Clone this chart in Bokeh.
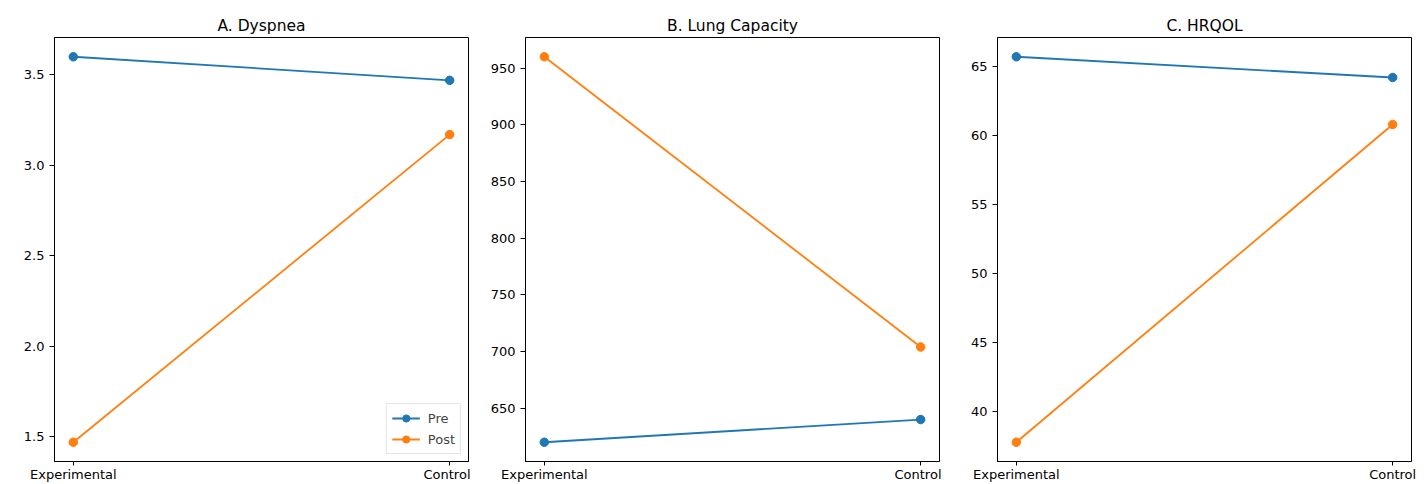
from bokeh.plotting import figure
from bokeh.layouts import row
from bokeh.models import FixedTicker, Range1d, Legend, LegendItem, NumeralTickFormatter
from bokeh.embed import file_html
from bokeh.resources import INLINE

groups = ["Experimental", "Control"]
series_names = ["Pre", "Post"]

dyspnea_pre = [3.60, 3.47]
dyspnea_post = [1.47, 3.17]
lung_pre = [620, 640]
lung_post = [960, 704]
hrqol_pre = [65.7, 64.2]
hrqol_post = [37.8, 60.8]

titles = ["A. Dyspnea", "B. Lung Capacity", "C. HRQOL"]
ticks_a = [1.5, 2.0, 2.5, 3.0, 3.5]
ticks_b = [650, 700, 750, 800, 850, 900, 950]
ticks_c = [40, 45, 50, 55, 60, 65]

BLUE = "#1f77b4"
ORANGE = "#ff7f0e"
FONT = "DejaVu Sans"

xs = list(range(len(groups)))


def make_panel(title, pre, post, ticks, fmt, left, right, width, legend=False):
    allv = pre + post
    lo, hi = min(allv), max(allv)
    pad = (hi - lo) * 0.05
    p = figure(width=width, height=484, output_backend="svg", toolbar_location=None,
               x_range=Range1d(-0.05, len(groups) - 1 + 0.05),
               y_range=Range1d(lo - pad, hi + pad),
               min_border_left=left, min_border_right=right,
               min_border_top=37, min_border_bottom=0)
    p.title.text = title
    p.title.align = "center"
    p.title.text_font = FONT
    p.title.text_font_size = "15.5px"
    p.title.text_font_style = "normal"
    p.title.text_color = "#000000"
    p.title.standoff = 5
    p.xgrid.visible = False
    p.ygrid.visible = False
    p.outline_line_color = "#000000"
    p.outline_line_width = 1
    p.background_fill_color = "white"
    p.border_fill_color = "white"

    for ax in (p.xaxis[0], p.yaxis[0]):
        ax.major_label_text_font = FONT
        ax.major_label_text_font_size = "13px"
        ax.major_label_text_color = "#000000"
        ax.axis_line_color = "#000000"
        ax.major_tick_line_color = "#000000"
        ax.major_tick_in = 0
        ax.minor_tick_line_color = None
    p.yaxis.major_tick_out = 5
    p.yaxis.major_label_standoff = 5
    p.xaxis.major_tick_out = 4
    p.xaxis.major_label_standoff = 1

    p.xaxis.ticker = FixedTicker(ticks=xs)
    p.xaxis.major_label_overrides = {i: g for i, g in zip(xs, groups)}
    p.yaxis.ticker = FixedTicker(ticks=ticks)
    p.yaxis.formatter = NumeralTickFormatter(format=fmt)

    items = []
    for name, vals, col in ((series_names[0], pre, BLUE), (series_names[1], post, ORANGE)):
        l = p.line(xs, vals, line_color=col, line_width=1.8)
        s = p.scatter(xs, vals, size=8.5, fill_color=col, line_color=col)
        items.append(LegendItem(label=name, renderers=[l, s]))

    if legend:
        lg = Legend(items=items, location="bottom_right")
        lg.label_text_font = FONT
        lg.label_text_font_size = "13px"
        lg.border_line_color = "#cccccc"
        lg.border_line_width = 1
        lg.margin = 7
        lg.padding = 5
        lg.spacing = 3
        lg.glyph_width = 28
        lg.glyph_height = 18
        lg.label_standoff = 8
        lg.label_height = 18
        p.add_layout(lg)
    return p


pa = make_panel(titles[0], dyspnea_pre, dyspnea_post, ticks_a, "0.0", 54, 2, 470, legend=True)
pb = make_panel(titles[1], lung_pre, lung_post, ticks_b, "0", 55, 2, 471)
pc = make_panel(titles[2], hrqol_pre, hrqol_post, ticks_c, "0", 56, 16, 486)

layout = row(pa, pb, pc, spacing=0)
open("out.html", "w").write(file_html(layout, INLINE))
